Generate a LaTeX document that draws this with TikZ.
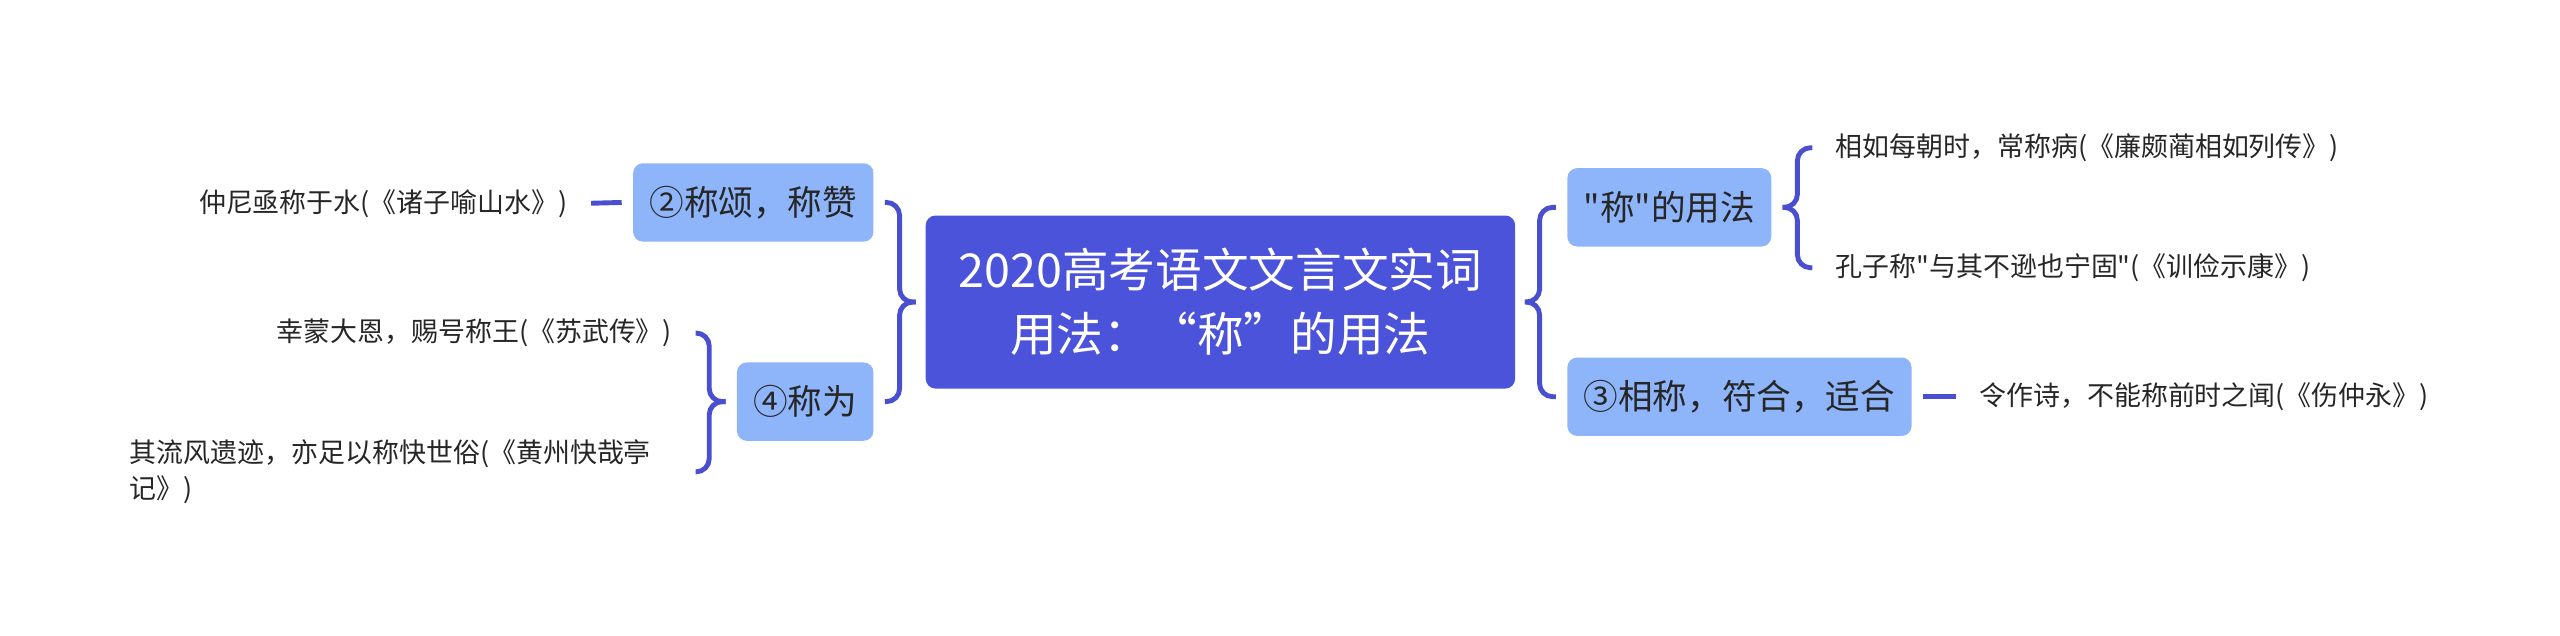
\documentclass[tikz,border=0pt]{standalone}
\usepackage{fontspec}
\newfontfamily\cjkfont{Noto Sans CJK SC}
\definecolor{mainblue}{HTML}{4A53D9}
\definecolor{subblue}{HTML}{8EB4FA}
\definecolor{linkblue}{HTML}{4A4FCF}
\definecolor{leafgray}{HTML}{262626}
\begin{document}
\begin{tikzpicture}[x=0.5pt, y=-0.5pt,
  rootbox/.style = {shape=rectangle, rounded corners=3pt,
    fill=mainblue, text=white, align=center,
    minimum width=180.5pt, minimum height=53pt, outer sep=3pt,
    font=\cjkfont\fontsize{14.3}{19.5}\selectfont},
  subbox/.style = {shape=rectangle, rounded corners=3pt,
    fill=subblue, text=leafgray, inner xsep=5pt,
    minimum height=24pt, outer sep=3.5pt,
    font=\cjkfont\fontsize{10.6}{13}\selectfont},
  leaf/.style = {inner xsep=7pt, inner ysep=1pt, text=leafgray,
    font=\cjkfont\fontsize{8.25}{10.8}\selectfont},
  brace/.style = {draw=linkblue, line width=1.5pt, rounded corners=4pt}
  ]
  \useasboundingbox (0,0) rectangle (1568,389);
  % centre
  \node[rootbox] (main) at (747.5,185) {2020高考语文文言文实词\\用法：“称”的用法};
  % right side
  \node[subbox, anchor=west] (use) at (953,127) {"称"的用法};
  \node[subbox, anchor=west] (b3) at (953,243) {③相称，符合，适合};
  \node[leaf, anchor=west] (r1) at (1110,90.5) {相如每朝时，常称病(《廉颇蔺相如列传》)};
  \node[leaf, anchor=west] (r2) at (1110,164) {孔子称"与其不逊也宁固"(《训俭示康》)};
  \node[leaf, anchor=west] (r3) at (1198,243) {令作诗，不能称前时之闻(《伤仲永》)};
  % left side
  \node[subbox, anchor=east] (b2) at (542,124) {②称颂，称赞};
  \node[subbox, anchor=east] (b4) at (542,246) {④称为};
  \node[leaf, anchor=east] (l1) at (362,124.5) {仲尼亟称于水(《诸子喻山水》)};
  \node[leaf, anchor=east] (l2) at (426,204) {幸蒙大恩，赐号称王(《苏武传》)};
  \node[leaf, anchor=east, align=left, text width=166pt] (l3) at (426,289)
    {其流风遗迹，亦足以称快世俗(《黄州快哉亭\\记》)};
  % links
  \draw[brace] (main.east) -- ++(9,0) |- (use.west);
  \draw[brace] (main.east) -- ++(9,0) |- (b3.west);
  \draw[brace] (main.west) -- ++(-10,0) |- (b2.east);
  \draw[brace] (main.west) -- ++(-10,0) |- (b4.east);
  \draw[brace] (use.east) -- ++(9,0) |- (r1.west);
  \draw[brace] (use.east) -- ++(9,0) |- (r2.west);
  \draw[brace] (b4.west) -- ++(-10,0) |- (l2.east);
  \draw[brace] (b4.west) -- ++(-10,0) |- (l3.east);
  \draw[brace] (b2.west) -- (l1.east);
  \draw[brace] (b3.east) -- (r3.west);
\end{tikzpicture}
\end{document}
